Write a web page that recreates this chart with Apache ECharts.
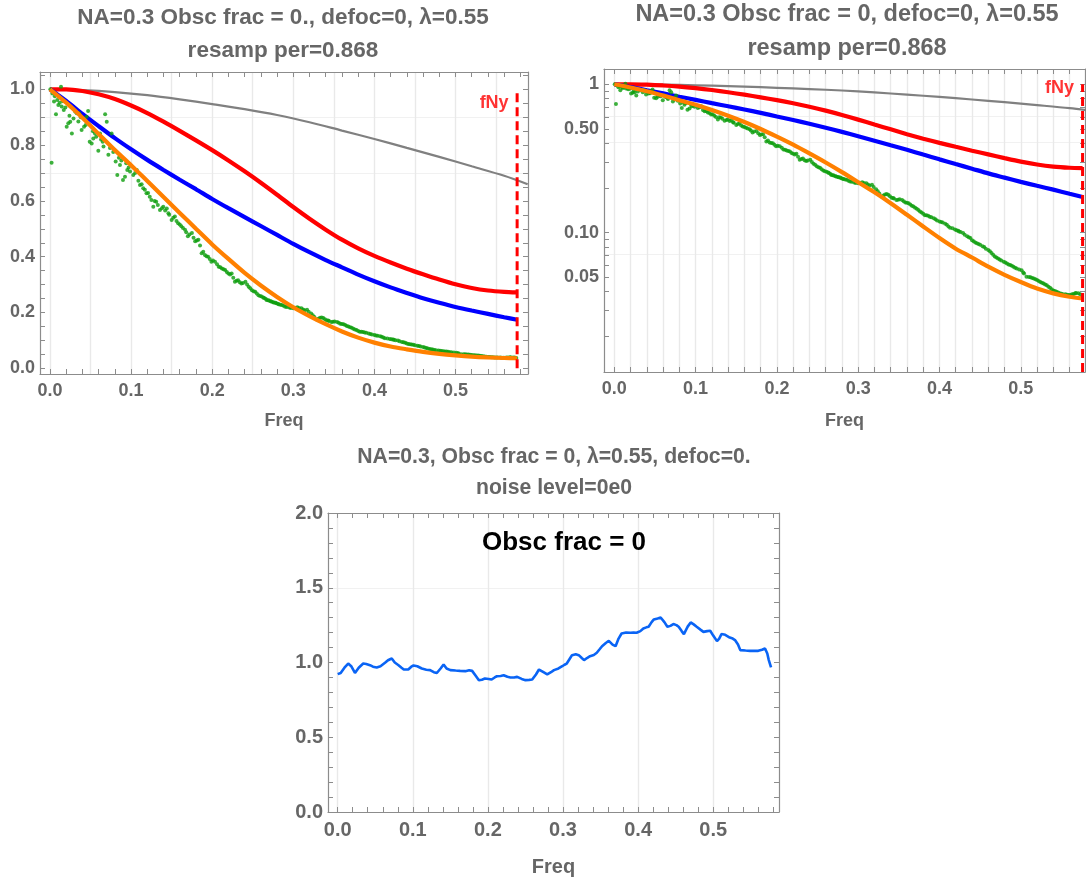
<!DOCTYPE html>
<html>
<head>
<meta charset="utf-8">
<script src="https://cdn.jsdelivr.net/npm/echarts@6/dist/echarts.min.js"></script>
<style>
html,body{margin:0;padding:0;background:#fff;}
#chart{width:1086px;height:882px;}
</style>
</head>
<body>
<div id="chart"></div>
<script>
// ---------------- data ----------------
const freq = [0,0.02,0.04,0.06,0.08,0.10,0.12,0.14,0.16,0.18,0.20,0.22,0.24,0.26,0.28,0.30,0.32,0.34,0.36,0.38,0.40,0.42,0.44,0.46,0.48,0.50,0.52,0.54,0.56,0.576];
const redMTF = [1.0,1.0,0.994,0.982,0.965,0.942,0.915,0.884,0.851,0.817,0.782,0.745,0.706,0.665,0.622,0.578,0.536,0.497,0.461,0.430,0.403,0.379,0.357,0.337,0.318,0.301,0.288,0.279,0.274,0.272];
const blueMTF = [1.0,0.958,0.912,0.868,0.825,0.785,0.747,0.711,0.676,0.642,0.607,0.574,0.542,0.510,0.478,0.446,0.416,0.388,0.362,0.336,0.312,0.290,0.270,0.251,0.235,0.220,0.207,0.195,0.183,0.174];
const orangeMTF = [1.0,0.952,0.898,0.840,0.782,0.728,0.671,0.614,0.557,0.500,0.444,0.392,0.342,0.297,0.256,0.219,0.187,0.158,0.132,0.110,0.092,0.078,0.068,0.059,0.052,0.0465,0.042,0.039,0.037,0.036];
const grayFreq = [0,0.04,0.08,0.12,0.16,0.20,0.24,0.28,0.32,0.36,0.40,0.44,0.48,0.52,0.56,0.589];
const grayMTF = [1.0,0.997,0.990,0.979,0.964,0.947,0.929,0.908,0.882,0.852,0.822,0.790,0.758,0.724,0.690,0.660];
const greenFreq = [0.0005,0.002,0.005,0.0074,0.0103,0.0136,0.0144,0.017,0.0206,0.0226,0.025,0.027,0.031,0.033,0.036,0.039,0.042,0.0452,0.047,0.049,0.0514,0.0534,0.0555,0.0596,0.0617,0.065,0.068,0.070,0.072,0.076,0.081,0.083,0.0863,0.090,0.0925,0.0953,0.0987,
0.1027,0.107,0.111,0.115,0.119,0.123,0.1274,0.131,0.1356,0.1397,0.144,0.147,0.150,0.154,0.158,0.162,0.1665,0.170,0.175,0.179,0.183,0.187,0.191,0.195,0.199,0.2035,0.208,0.212,0.216,0.220,0.224,0.228,0.232,0.236,0.241,0.245,0.249,0.253,0.257,0.261,0.264,0.267,0.270,0.273,0.276,0.279,0.282,0.286,
0.290,0.295,0.300,0.305,0.310,0.314,0.317,0.322,0.326,0.329,0.333,0.337,0.341,0.344,0.347,0.351,0.354,0.358,0.362,0.366,0.370,0.374,0.378,0.382,0.386,0.390,0.393,0.397,0.400,0.404,0.409,0.413,0.416,0.419,0.423,0.426,0.429,0.434,0.438,0.442,0.446,0.450,0.455,0.460,0.464,0.468,0.472,0.476,0.479,0.483,0.487,0.491,0.495,0.501,0.504,0.507,0.512,0.516,0.520,0.524,0.528,0.532,0.536,0.540,0.544,0.548,0.552,0.557,0.561,0.565,0.568,0.571,0.575];
const greenMTF = [1.0,0.737,0.956,0.911,0.944,1.009,0.938,0.926,0.866,0.878,0.884,0.842,0.920,0.914,0.914,0.854,0.866,0.902,0.922,0.812,0.806,0.824,0.842,0.780,0.842,0.812,0.911,0.884,0.765,0.842,0.741,0.693,0.729,0.675,0.687,0.711,0.705,
0.693,0.711,0.657,0.645,0.627,0.615,0.579,0.597,0.567,0.579,0.573,0.550,0.532,0.544,0.520,0.509,0.497,0.473,0.485,0.455,0.461,0.412,0.406,0.400,0.382,0.382,0.364,0.358,0.352,0.340,0.340,0.310,0.316,0.304,0.310,0.292,0.280,0.274,0.262,0.257,0.252,0.245,0.243,0.239,0.236,0.233,0.230,0.227,
0.221,0.218,0.215,0.219,0.215,0.208,0.210,0.196,0.184,0.175,0.181,0.180,0.172,0.170,0.166,0.168,0.166,0.160,0.158,0.152,0.147,0.142,0.137,0.131,0.130,0.127,0.125,0.121,0.119,0.117,0.113,0.108,0.107,0.105,0.103,0.101,0.0996,0.0945,0.092,0.0874,0.085,0.083,0.080,0.0765,0.073,0.069,0.067,0.065,0.0638,0.062,0.0605,0.059,0.0574,0.0559,0.053,0.0504,0.050,0.0491,0.048,0.0466,0.0455,0.0442,0.0425,0.0408,0.040,0.039,0.0385,0.0382,0.038,0.0386,0.0392,0.039,0.0366];
const greenFreqB = [0.003,0.006,0.009,0.012,0.016,0.019,0.024,0.029,0.035,0.038,0.044,0.053,0.057,0.063,0.066,0.074,0.078,0.085,0.088,0.094,0.097,
0.105,0.109,0.113,0.117,0.121,0.125,0.129,0.133,0.138,0.142,0.146,0.152,0.156,0.160,0.164,0.168,0.172,0.177,0.181,0.185,0.189,0.193,0.197,0.201,0.206,0.210,0.214,0.218,0.222,0.226,0.230,0.234,0.238,0.243,0.247,0.251,0.255,0.259,0.263,0.266,0.269,0.272,0.275,0.278,0.281,0.284,0.288,
0.292,0.297,0.302,0.307,0.312,0.319,0.324,0.331,0.335,0.339,0.343,0.349,0.356,0.360,0.364,0.368,0.372,0.376,0.380,0.384,0.388,0.395,0.402,0.407,0.411,0.421,0.424,0.431,0.436,0.440,0.444,0.448,0.453,0.457,0.462,0.466,0.470,0.474,0.481,0.485,0.489,0.493,0.498,0.503,0.510,0.514,0.518,0.522,0.526,0.530,0.534,0.538,0.542,0.546,0.550,0.555,0.559,0.563,0.567,0.573];
const greenMTFB = [0.985,0.975,0.962,0.952,0.957,0.935,0.905,0.895,0.885,0.900,0.872,0.850,0.830,0.820,0.795,0.790,0.775,0.755,0.745,0.735,0.720,
0.700,0.672,0.660,0.640,0.628,0.603,0.600,0.585,0.574,0.566,0.556,0.540,0.528,0.515,0.503,0.488,0.480,0.468,0.458,0.440,0.418,0.402,0.392,0.386,0.373,0.362,0.355,0.345,0.336,0.325,0.314,0.308,0.306,0.300,0.287,0.276,0.268,0.259,0.254,0.249,0.244,0.240,0.237,0.235,0.231,0.228,0.224,
0.220,0.216,0.217,0.216,0.211,0.203,0.190,0.178,0.182,0.176,0.171,0.167,0.163,0.159,0.155,0.150,0.145,0.139,0.134,0.131,0.128,0.123,0.118,0.115,0.110,0.104,0.102,0.097,0.093,0.089,0.086,0.084,0.081,0.078,0.075,0.071,0.068,0.066,0.063,0.061,0.0598,0.058,0.0565,0.054,0.0502,0.0495,0.0485,0.0472,0.046,0.0448,0.0432,0.0415,0.0404,0.0395,0.0387,0.0384,0.038,0.0384,0.039,0.0385];
const ratioFreq = [0,0.004,0.014,0.023,0.034,0.043,0.052,0.063,0.072,0.081,0.088,0.094,0.101,0.112,0.123,0.132,0.141,0.150,0.163,0.179,0.188,0.196,0.205,0.212,0.221,0.230,0.239,0.250,0.259,0.268,0.279,0.288,0.299,0.305,0.312,0.321,0.328,0.336,0.345,0.352,0.361,0.370,0.378,0.390,0.398,0.407,0.414,0.421,0.430,0.439,0.447,0.454,0.461,0.470,0.478,0.487,0.496,0.505,0.511,0.522,0.529,0.536,0.549,0.560,0.569,0.574,0.577,
0.009,0.018,0.028,0.038,0.047,0.057,0.067,0.076,0.085,0.098,0.106,0.118,0.128,0.137,0.145,0.157,0.170,0.175,0.184,0.192,0.201,0.209,0.217,0.226,0.235,0.245,0.255,0.264,0.274,0.284,0.294,0.302,0.309,0.317,0.325,0.332,0.341,0.349,0.357,0.366,0.374,0.384,0.394,0.403,0.411,0.418,0.426,0.435,0.443,0.451,0.458,0.466,0.474,0.483,0.492,0.500,0.508,0.516,0.526,0.533,0.543,0.555,0.565,0.572];
const ratioVal = [0.922,0.930,0.993,0.930,0.993,0.982,0.967,0.998,1.027,0.982,0.953,0.953,0.980,0.960,0.949,0.930,0.987,0.949,0.944,0.944,0.882,0.893,0.886,0.908,0.915,0.900,0.904,0.882,0.886,0.953,0.920,0.949,0.975,0.993,1.049,1.049,1.016,1.042,1.065,1.109,1.145,1.109,1.194,1.199,1.199,1.228,1.239,1.288,1.301,1.239,1.257,1.239,1.190,1.268,1.239,1.205,1.212,1.143,1.190,1.167,1.150,1.083,1.078,1.078,1.094,1.016,0.967,
0.965,0.975,0.965,0.990,0.972,0.975,1.015,1.000,0.965,0.972,0.975,0.952,0.935,0.960,0.960,0.946,0.942,0.948,0.910,0.885,0.890,0.900,0.910,0.905,0.900,0.890,0.884,0.920,0.935,0.935,0.960,0.985,1.025,1.055,1.030,1.030,1.050,1.090,1.130,1.120,1.160,1.200,1.200,1.210,1.235,1.270,1.295,1.270,1.245,1.250,1.210,1.240,1.255,1.220,1.210,1.180,1.160,1.185,1.160,1.120,1.080,1.078,1.085,1.060];
const fNy = 0.576;
const fNyTop = 1.0;
const fNyLabelY = [0.951, 0.94];
const linXLabels = [0,0.1,0.2,0.3,0.4,0.5];
const linYLabels = [0,0.2,0.4,0.6,0.8,1.0];
const logYLabelVals = [1,0.5,0.1,0.05];
const logYLabelText = ['1','0.50','0.10','0.05'];
const logYTicks = [0.02,0.03,0.04,0.05,0.06,0.07,0.08,0.09,0.1,0.2,0.3,0.4,0.5,0.6,0.7,0.8,0.9,1];
const ratioYLabels = [0,0.5,1.0,1.5,2.0];

// ---------------- helpers ----------------
function range(a, b, s){ const r=[]; for(let i=0;a+i*s<=b+1e-9;i++) r.push(+(a+i*s).toFixed(4)); return r; }
const zip = (xs, ys) => xs.map((x,i)=>[x, ys[i]]);
const FF = "'Liberation Sans', Arial, sans-serif";
const frameColor = '#8c8c8c';
const labColor = '#666666';
const gridColor = '#e9e9e9';
const greenPts = zip(greenFreq, greenMTF).concat(zip(greenFreqB, greenMTFB));
const ratioPts = zip(ratioFreq, ratioVal).sort((a,b)=>a[0]-b[0]);

function xAxes(g, min, max, labels, ticks, gridVals, fs, nameGap){
  return [
    {type:'value', gridIndex:g, min, max, position:'bottom',
     axisLine:{show:true,onZero:false,lineStyle:{color:frameColor,width:1.2}},
     axisTick:{show:true,inside:true,length:5,customValues:ticks,lineStyle:{color:frameColor}},
     axisLabel:{show:true,customValues:labels,formatter:v=>(+v).toFixed(1),margin:8,color:labColor,fontSize:fs,fontWeight:'bold',fontFamily:FF},
     splitLine:{show:false},
     name:'Freq', nameLocation:'middle', nameGap, nameTextStyle:{color:labColor,fontSize:fs,fontWeight:'bold',fontFamily:FF}},
    {type:'value', gridIndex:g, min, max, position:'top',
     axisLine:{show:true,onZero:false,lineStyle:{color:frameColor,width:1.2}},
     axisTick:{show:true,inside:true,length:5,customValues:ticks,lineStyle:{color:frameColor}},
     axisLabel:{show:false}, splitLine:{show:false}},
    {type:'value', gridIndex:g, min, max, position:'bottom',
     axisLine:{show:false}, axisTick:{show:false,customValues:gridVals},
     axisLabel:{show:false}, splitLine:{show:true,lineStyle:{color:gridColor,width:1.4}}}
  ];
}
function yAxes(g, type, min, max, labels, fmt, ticks, gridVals, fs){
  return [
    {type, gridIndex:g, min, max, position:'left',
     axisLine:{show:true,onZero:false,lineStyle:{color:frameColor,width:1.2}},
     axisTick:{show:true,inside:true,length:5,customValues:ticks,lineStyle:{color:frameColor}},
     axisLabel:{show:true,customValues:labels,formatter:fmt,margin:5,color:labColor,fontSize:fs,fontWeight:'bold',fontFamily:FF},
     splitLine:{show:false}},
    {type, gridIndex:g, min, max, position:'right',
     axisLine:{show:true,onZero:false,lineStyle:{color:frameColor,width:1.2}},
     axisTick:{show:true,inside:true,length:5,customValues:ticks,lineStyle:{color:frameColor}},
     axisLabel:{show:false}, splitLine:{show:false}},
    {type, gridIndex:g, min, max, position:'left',
     axisLine:{show:false}, axisTick:{show:false,customValues:gridVals},
     axisLabel:{show:false}, splitLine:{show:true,lineStyle:{color:'#f1f1f1',width:1.2}}}
  ];
}
const logFmt = v => { for(let i=0;i<logYLabelVals.length;i++){ if(Math.abs(v-logYLabelVals[i])<1e-6*logYLabelVals[i]+1e-9) return logYLabelText[i]; } return ''; };

const logMin = 0.01151, logMax = 1.268;

function mtfSeries(xi, yi, bottomY, labelY){
  return [
    {type:'line', xAxisIndex:xi, yAxisIndex:yi, data:zip(grayFreq,grayMTF), showSymbol:false, smooth:0.3, lineStyle:{color:'#808080',width:2.2}, z:2},
    {type:'line', xAxisIndex:xi, yAxisIndex:yi, data:zip(freq,redMTF), showSymbol:false, smooth:0.25, lineStyle:{color:'#ff0000',width:4.2}, z:3},
    {type:'line', xAxisIndex:xi, yAxisIndex:yi, data:zip(freq,blueMTF), showSymbol:false, smooth:0.25, lineStyle:{color:'#0000ff',width:4.2}, z:3},
    {type:'scatter', xAxisIndex:xi, yAxisIndex:yi, data:greenPts, symbol:'circle', symbolSize:4, itemStyle:{color:'#0c9e0c'}, z:4},
    {type:'line', xAxisIndex:xi, yAxisIndex:yi, data:zip(freq,orangeMTF), showSymbol:false, smooth:0.25, lineStyle:{color:'#ff8000',width:4.2}, z:5},
    {type:'line', xAxisIndex:xi, yAxisIndex:yi, data:[[fNy,bottomY],[fNy,fNyTop]], showSymbol:false, lineStyle:{color:'#ff0000',width:3,type:[9,5]}, z:6},
    {type:'scatter', xAxisIndex:xi, yAxisIndex:yi, data:[[fNy,labelY]], symbolSize:1, itemStyle:{color:'rgba(0,0,0,0)'}, z:7,
     label:{show:true, formatter:'fNy', position:'left', distance:8, color:'#ff0000', fontSize:18, fontWeight:'bold', fontFamily:FF}}
  ];
}

const tStyle = {color:labColor, fontSize:22.5, fontWeight:'bold', fontFamily:FF, lineHeight:33};

const option = {
  animation:false,
  backgroundColor:'#ffffff',
  title:[
    {text:'NA=0.3 Obsc frac = 0., defoc=0, λ=0.55\nresamp per=0.868', left:283, top:1.5, textAlign:'center', padding:0, textStyle:tStyle},
    {text:'NA=0.3 Obsc frac = 0, defoc=0, λ=0.55\nresamp per=0.868', left:847, top:-2, textAlign:'center', padding:0, textStyle:Object.assign({},tStyle,{fontSize:23.5,lineHeight:34})},
    {text:'NA=0.3, Obsc frac = 0, λ=0.55, defoc=0.\nnoise level=0e0', left:554, top:442, textAlign:'center', padding:0, textStyle:Object.assign({},tStyle,{fontSize:21.2,lineHeight:31})},
    {text:'Obsc frac = 0', left:564, top:528, textAlign:'center', padding:0, textStyle:{color:'#000',fontSize:26,fontWeight:'bold',fontFamily:FF,lineHeight:30}}
  ],
  grid:[
    {left:40, top:72, width:488, height:302},
    {left:604, top:69, width:481, height:303},
    {left:328, top:513, width:451, height:299}
  ],
  xAxis:[
    ...xAxes(0, -0.0123, 0.5894, linXLabels, range(0,0.58,0.02), range(0,0.55,0.05), 18, 38),
    ...xAxes(1, -0.0127, 0.5790, linXLabels, range(0,0.58,0.02), range(0,0.56,0.02), 18, 40),
    ...xAxes(2, -0.0129, 0.5876, linXLabels, range(0,0.58,0.02), range(0,0.5,0.1), 20, 45)
  ],
  yAxis:[
    ...yAxes(0, 'value', -0.0204, 1.062, linYLabels, v=>(+v).toFixed(1), range(0,1.05,0.05), [0.7,0.9], 18),
    ...yAxes(1, 'log', logMin, logMax, logYLabelVals, logFmt, logYTicks, [0.0715,0.404,0.605], 18),
    ...yAxes(2, 'value', 0, 2, ratioYLabels, v=>(+v).toFixed(1), range(0,2,0.1), [1.5], 20)
  ],
  series:[
    ...mtfSeries(0, 0, 0, fNyLabelY[0]),
    ...mtfSeries(3, 3, logMin, fNyLabelY[1]),
    {type:'line', xAxisIndex:6, yAxisIndex:6, data:ratioPts, showSymbol:false, lineStyle:{color:'#0a64f5',width:2.6}}
  ]
};
const chart = echarts.init(document.getElementById('chart'), null, {renderer:'canvas'});
chart.setOption(option);
</script>
</body>
</html>
